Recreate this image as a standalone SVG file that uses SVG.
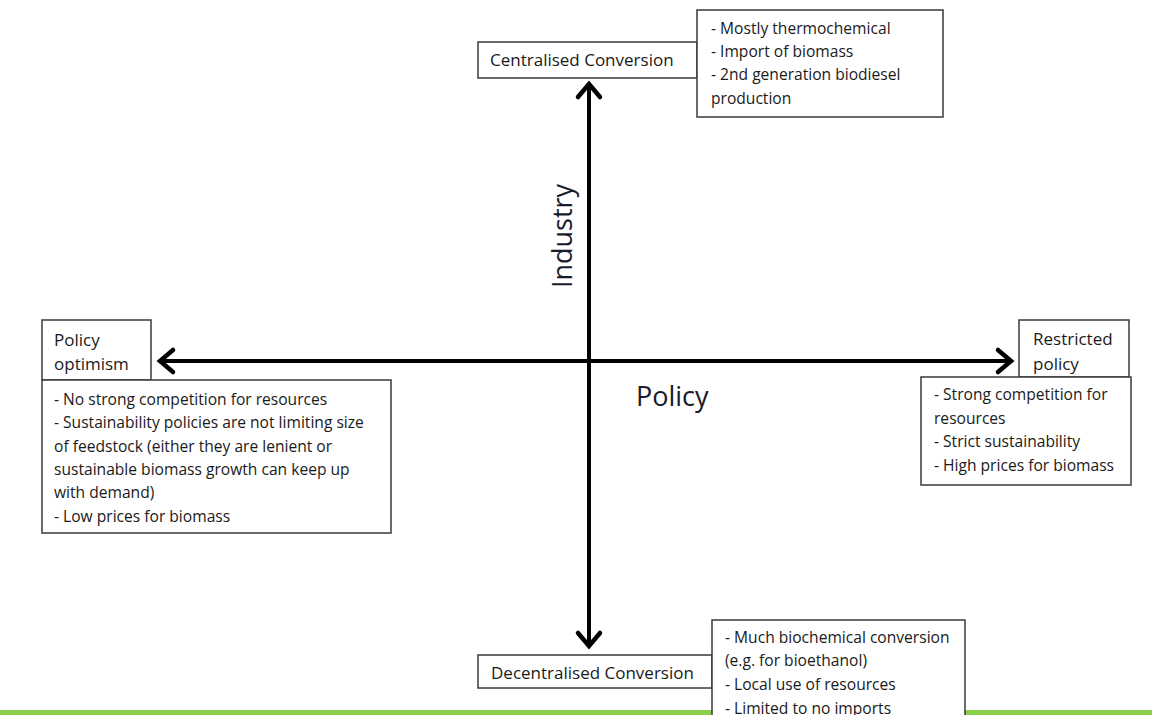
<svg xmlns="http://www.w3.org/2000/svg" width="1152" height="715" viewBox="0 0 1152 715">
<defs>
<style>
.box{fill:#fff;stroke:#3a3a3a;stroke-width:1.5}
.t{font-family:"Open Sans","Liberation Sans",Arial,sans-serif;font-size:15.6px;fill:#1a1a1a}
.lbl{font-family:"Open Sans","Liberation Sans",Arial,sans-serif;font-size:17px;fill:#1a1a1a}
.big{font-family:"Open Sans","Liberation Sans",Arial,sans-serif;font-size:27px;fill:#1a1a2a}
.axis{stroke:#000;stroke-width:4;fill:none}
.head{stroke:#000;stroke-width:4.5;fill:none;stroke-linecap:round;stroke-linejoin:miter}
</style>
</defs>
<rect width="1152" height="715" fill="#fff"/>
<rect x="0" y="710" width="1152" height="5" fill="#8ccf4b"/>
<g id="connectors">
<line class="axis" x1="589" y1="84" x2="589" y2="646"/>
<line class="axis" x1="160" y1="361" x2="1011" y2="361"/>
<polyline class="head" points="578,97 589,84 600,97"/>
<polyline class="head" points="578,633 589,646 600,633"/>
<polyline class="head" points="173,350 160,361 173,372"/>
<polyline class="head" points="998,350 1011,361 998,372"/>
</g>
<g id="axis-labels">
<text class="big" transform="translate(572,236) rotate(-90)" text-anchor="middle">Industry</text>
<text class="big" x="636" y="406">Policy</text>
</g>
<g id="centralised">
<rect class="box" x="478" y="42" width="219" height="36"/>
<text class="lbl" x="490" y="66">Centralised Conversion</text>
</g>
<g id="centralised-notes">
<rect class="box" x="697" y="10" width="246" height="107"/>
<text class="t" x="711" y="34">- Mostly thermochemical</text>
<text class="t" x="711" y="57">- Import of biomass</text>
<text class="t" x="711" y="80">- 2nd generation biodiesel</text>
<text class="t" x="711" y="104">production</text>
</g>
<g id="policy-optimism">
<rect class="box" x="42" y="320" width="109" height="60"/>
<text class="lbl" x="54" y="346">Policy</text>
<text class="lbl" x="54" y="370">optimism</text>
</g>
<g id="policy-optimism-notes">
<rect class="box" x="42" y="380" width="349" height="153"/>
<text class="t" x="54" y="405">- No strong competition for resources</text>
<text class="t" x="54" y="428">- Sustainability policies are not limiting size</text>
<text class="t" x="54" y="452">of feedstock (either they are lenient or</text>
<text class="t" x="54" y="475">sustainable biomass growth can keep up</text>
<text class="t" x="54" y="498">with demand)</text>
<text class="t" x="54" y="522">- Low prices for biomass</text>
</g>
<g id="restricted-policy">
<rect class="box" x="1019" y="320" width="110" height="57"/>
<text class="lbl" x="1033" y="345">Restricted</text>
<text class="lbl" x="1033" y="370">policy</text>
</g>
<g id="restricted-notes">
<rect class="box" x="921" y="377" width="210" height="108"/>
<text class="t" x="934" y="400">- Strong competition for</text>
<text class="t" x="934" y="424">resources</text>
<text class="t" x="934" y="447">- Strict sustainability</text>
<text class="t" x="934" y="471">- High prices for biomass</text>
</g>
<g id="decentralised">
<rect class="box" x="478" y="655" width="234" height="33"/>
<text class="lbl" x="491" y="679">Decentralised Conversion</text>
</g>
<g id="decentralised-notes">
<rect class="box" x="712" y="620" width="253" height="100"/>
<text class="t" x="725" y="643">- Much biochemical conversion</text>
<text class="t" x="725" y="666">(e.g. for bioethanol)</text>
<text class="t" x="725" y="690">- Local use of resources</text>
<text class="t" x="725" y="714">- Limited to no imports</text>
</g>
</svg>
